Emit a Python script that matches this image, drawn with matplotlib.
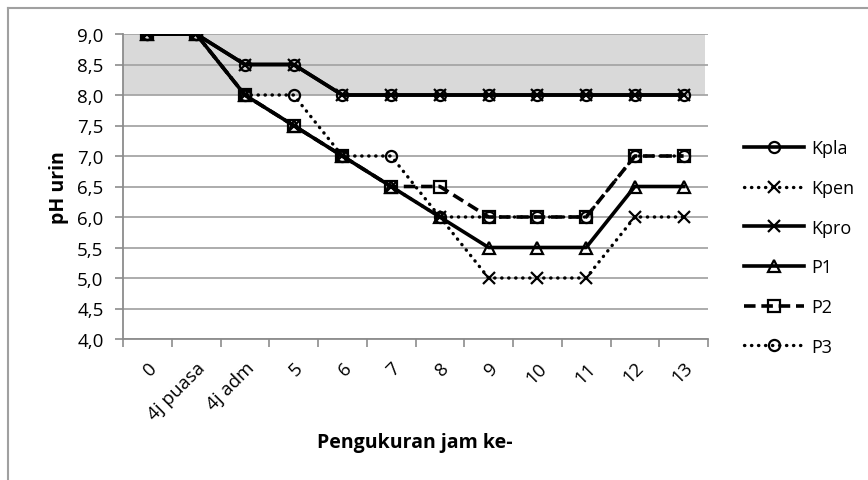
import matplotlib
matplotlib.use("Agg")
import matplotlib.pyplot as plt
from matplotlib.lines import Line2D
import matplotlib.ticker as mticker

plt.rcParams['font.family'] = ['Open Sans', 'DejaVu Sans']

categories = ["0", "4j puasa", "4j adm", "5", "6", "7", "8", "9", "10", "11", "12", "13"]
kpla = [9.0, 9.0, 8.5, 8.5, 8.0, 8.0, 8.0, 8.0, 8.0, 8.0, 8.0, 8.0]
kpen = [9.0, 9.0, 8.0, 7.5, 7.0, 6.5, 6.0, 5.0, 5.0, 5.0, 6.0, 6.0]
kpro = [9.0, 9.0, 8.5, 8.5, 8.0, 8.0, 8.0, 8.0, 8.0, 8.0, 8.0, 8.0]
p1 = [9.0, 9.0, 8.0, 7.5, 7.0, 6.5, 6.0, 5.5, 5.5, 5.5, 6.5, 6.5]
p2 = [9.0, 9.0, 8.0, 7.5, 7.0, 6.5, 6.5, 6.0, 6.0, 6.0, 7.0, 7.0]
p3 = [9.0, 9.0, 8.0, 8.0, 7.0, 7.0, 6.0, 6.0, 6.0, 6.0, 7.0, 7.0]
normal_range = (8.0, 9.0)

W, H = 868, 481
fig = plt.figure(figsize=(W / 100, H / 100), dpi=100)
ax = fig.add_axes([123 / W, 1 - 340 / H, (708 - 123) / W, (340 - 35) / H])

x = list(range(len(categories)))
ax.axhspan(*normal_range, xmin=0, xmax=(705 - 123) / (708 - 123), color='#d9d9d9', zorder=0, lw=0)

dotted = (0, (0.1, 2.0))
series = [
    ("Kpla", kpla, dict(ls='-', marker='o', lw=2.6)),
    ("Kpen", kpen, dict(ls=dotted, marker='x', lw=2.4, dash_capstyle='round')),
    ("Kpro", kpro, dict(ls='-', marker='x', lw=2.6)),
    ("P1", p1, dict(ls='-', marker='^', lw=2.6)),
    ("P2", p2, dict(ls=(0, (3.2, 1.6)), marker='s', lw=2.6)),
    ("P3", p3, dict(ls=dotted, marker='o', lw=2.4, dash_capstyle='round')),
]
handles = []
for name, vals, st in series:
    ln, = ax.plot(x, vals, color='black', markersize=8, markerfacecolor='none',
                  markeredgecolor='black', markeredgewidth=1.6, label=name, zorder=3, **st)
    handles.append(ln)

ax.set_xlim(-0.5, len(categories) - 0.5)
ax.set_ylim(4.0, 9.0)
ax.yaxis.set_major_locator(mticker.MultipleLocator(0.5))
ax.yaxis.set_major_formatter(mticker.FuncFormatter(lambda v, p: f"{v:.1f}".replace('.', ',')))
ax.grid(axis='y', color='#a6a6a6', lw=1.3, zorder=1)
ax.set_axisbelow(True)

ax.set_xticks(x)
ax.set_xticks([i - 0.5 for i in range(len(categories) + 1)], minor=True)
ax.set_xticklabels(categories, rotation=45, ha='right', va='top', rotation_mode='anchor', fontsize=13.5)
ax.tick_params(axis='x', which='major', length=0, pad=14)
ax.tick_params(axis='x', which='minor', length=6, color='#8c8c8c', width=1.2, direction='out')
ax.tick_params(axis='y', length=6, color='#8c8c8c', width=1.2, labelsize=13.5, pad=8)

for s in ['top', 'right']:
    ax.spines[s].set_visible(False)
for s in ['left', 'bottom']:
    ax.spines[s].set_color('#8c8c8c')
    ax.spines[s].set_linewidth(1.3)

ax.set_ylabel("pH urin", fontsize=14, fontweight='bold', labelpad=6)
fig.text(415 / W, 1 - 443 / H, "Pengukuran jam ke-", fontsize=14, fontweight='bold', ha='center', va='center')

fig.legend(handles=handles, loc='center left', bbox_to_anchor=(744 / W, 1 - 248.5 / H),
           frameon=False, fontsize=13, handlelength=3.3, labelspacing=1.2,
           borderpad=0, borderaxespad=0, handletextpad=0.4)

# chart border (left and top visible)
fig.add_artist(Line2D([8 / W, 8 / W], [0, 1 - 9 / H], transform=fig.transFigure, color='#a0a0a0', lw=1.5))
fig.add_artist(Line2D([8 / W, 1], [1 - 9 / H, 1 - 9 / H], transform=fig.transFigure, color='#a0a0a0', lw=1.5))

fig.savefig("out.png", dpi=100)
